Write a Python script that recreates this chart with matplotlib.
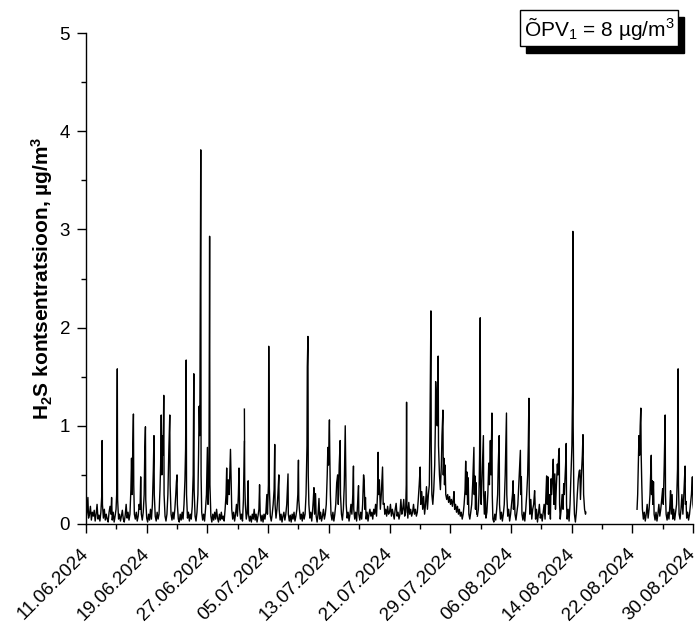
import numpy as np
import pandas as pd
import matplotlib
matplotlib.use("Agg")
import matplotlib.pyplot as plt
import matplotlib.dates as mdates
from matplotlib import transforms
from matplotlib.patches import Rectangle

plt.rcParams['font.family'] = ['Liberation Sans', 'DejaVu Sans']
plt.rcParams['mathtext.fontset'] = 'custom'
plt.rcParams['mathtext.rm'] = 'Liberation Sans'
plt.rcParams['mathtext.it'] = 'Liberation Sans:italic'
plt.rcParams['mathtext.bf'] = 'Liberation Sans:bold'

# H2S concentration (ug/m3), as (hours after segment start, value)
jun_start = pd.Timestamp("2024-06-11 23:00")
jun_pts = [(-29, 0.08), (-26, 0.15), (-23, 0.05), (-20, 0.12), (-17, 0.27), (-15, 0.06), (-12, 0.1),
           (-9, 0.18), (-6, 0.04), (-3, 0.12), (0, 0.08), (3, 0.14), (6, 0.03), (9, 0.1), (12, 0.2),
           (15, 0.05), (18, 0.09), (21, 0.03), (24, 0.12), (27, 0.3), (28, 0.85), (29, 0.2), (32, 0.06),
           (35, 0.15), (38, 0.04), (41, 0.1), (44, 0.05), (47, 0.02), (50, 0.12), (53, 0.18), (56, 0.1),
           (58, 0.27), (60, 0.04), (63, 0.12), (66, 0.02), (69, 0.08), (72, 0.15), (74, 0.3), (76, 1.58),
           (77, 0.25), (80, 0.05), (83, 0.1), (86, 0.03), (89, 0.08), (92, 0.14), (95, 0.05), (98, 0.02),
           (101, 0.09), (104, 0.2), (107, 0.06), (110, 0.12), (113, 0.04), (116, 0.1), (119, 0.35),
           (121, 0.67), (123, 0.3), (125, 0.79), (127, 1.12), (128, 0.4), (130, 0.1), (133, 0.05),
           (136, 0.12), (139, 0.03), (142, 0.08), (145, 0.2), (148, 0.15), (150, 0.48), (152, 0.1),
           (155, 0.04), (158, 0.12), (161, 0.3), (163, 0.76), (165, 0.99), (166, 0.25), (169, 0.06),
           (172, 0.02), (175, 0.1), (178, 0.04), (181, 0.15), (184, 0.05), (187, 0.2), (190, 0.55),
           (192, 0.9), (193, 0.3), (196, 0.08), (199, 0.03), (202, 0.12), (205, 0.05), (208, 0.1),
           (211, 0.35), (213, 0.6), (215, 1.11), (217, 0.5), (219, 0.9), (221, 0.7), (223, 1.31),
           (224, 0.3), (227, 0.08), (230, 0.03), (233, 0.1), (236, 0.3), (239, 0.75), (242, 1.11),
           (243, 0.4), (246, 0.1), (249, 0.04), (252, 0.12), (255, 0.05), (258, 0.15), (261, 0.3),
           (263, 0.43), (265, 0.5), (266, 0.2), (269, 0.05), (272, 0.02), (275, 0.1), (278, 0.04),
           (281, 0.12), (284, 0.05), (287, 0.2), (290, 0.45), (292, 0.76), (294, 1.67), (295, 0.3),
           (298, 0.06), (301, 0.12), (304, 0.03), (307, 0.1), (310, 0.05), (313, 0.18), (316, 0.5),
           (318, 1.53), (319, 0.35), (322, 0.08), (325, 0.03), (328, 0.12), (331, 0.3), (333, 0.7),
           (335, 1.2), (337, 0.9), (340, 3.81), (341, 0.5), (343, 0.12), (346, 0.04), (349, 0.1),
           (352, 0.03), (355, 0.15), (358, 0.3), (361, 0.78), (363, 0.2), (366, 0.5), (368, 2.93),
           (369, 0.4), (372, 0.08), (375, 0.02), (378, 0.1), (381, 0.04), (384, 0.12), (387, 0.05),
           (390, 0.15), (393, 0.06), (396, 0.02), (399, 0.1), (402, 0.04), (405, 0.12), (408, 0.05),
           (411, 0.08), (414, 0.03), (417, 0.15), (420, 0.3), (422, 0.57), (424, 0.2), (427, 0.45),
           (430, 0.3), (434, 0.76), (436, 0.46), (438, 0.15), (441, 0.05), (444, 0.12), (447, 0.03),
           (450, 0.1), (453, 0.2), (456, 0.08), (459, 0.3), (461, 0.57), (463, 0.15), (466, 0.05),
           (469, 0.1), (472, 0.03), (475, 0.25), (478, 0.84)]

jul_start = pd.Timestamp("2024-06-11 16:00")
jul_pts = [(485, 1.17), (486, 0.44), (488, 0.2), (491, 0.05), (494, 0.12), (497, 0.44), (498, 0.1),
           (501, 0.03), (504, 0.08), (507, 0.02), (510, 0.1), (513, 0.05), (516, 0.15), (519, 0.04),
           (522, 0.1), (525, 0.02), (528, 0.08), (531, 0.15), (533, 0.4), (535, 0.1), (538, 0.03),
           (541, 0.09), (544, 0.02), (547, 0.1), (550, 0.05), (553, 0.12), (556, 0.3), (558, 0.1),
           (561, 0.4), (562, 1.81), (563, 1.0), (564, 0.37), (567, 0.08), (570, 0.03), (573, 0.1),
           (576, 0.2), (579, 0.35), (581, 0.81), (582, 0.2), (585, 0.06), (588, 0.15), (591, 0.3),
           (594, 0.5), (595, 0.15), (598, 0.04), (601, 0.1), (604, 0.02), (607, 0.08), (610, 0.12),
           (613, 0.04), (616, 0.1), (619, 0.2), (621, 0.35), (623, 0.51), (624, 0.1), (627, 0.03),
           (630, 0.09), (633, 0.02), (636, 0.1), (639, 0.05), (642, 0.12), (645, 0.03), (648, 0.08),
           (651, 0.15), (654, 0.3), (656, 0.65), (657, 0.25), (659, 0.15), (662, 0.05), (665, 0.1),
           (668, 0.03), (671, 0.12), (674, 0.05), (677, 0.1), (680, 0.3), (683, 0.8), (684, 1.6),
           (686, 1.91), (687, 0.5), (689, 0.2), (692, 0.06), (695, 0.12), (698, 0.03), (701, 0.15),
           (703, 0.25), (705, 0.37), (707, 0.1), (710, 0.31), (712, 0.08), (715, 0.02), (718, 0.1),
           (721, 0.26), (723, 0.05), (726, 0.12), (729, 0.03), (732, 0.08), (735, 0.15), (738, 0.05),
           (741, 0.1), (744, 0.2), (747, 0.5), (749, 0.78), (751, 0.6), (754, 1.06), (755, 0.73),
           (757, 0.3), (759, 0.1), (762, 0.04), (765, 0.12), (768, 0.03), (771, 0.1), (774, 0.2),
           (777, 0.42), (780, 0.5), (782, 0.2), (785, 0.6), (788, 0.85), (789, 0.3), (792, 0.1),
           (795, 0.04), (798, 0.15), (801, 0.4), (804, 1.0), (805, 0.73), (807, 0.2), (810, 0.06),
           (813, 0.12), (816, 0.03), (819, 0.1), (822, 0.2), (825, 0.1), (828, 0.3), (830, 0.59),
           (831, 0.15), (834, 0.05), (837, 0.12), (840, 0.03), (843, 0.2), (846, 0.39), (847, 0.1),
           (850, 0.04), (853, 0.12), (856, 0.05), (859, 0.2), (862, 0.5), (864, 0.44), (866, 0.15),
           (868, 0.27), (870, 0.05), (873, 0.12), (876, 0.03), (879, 0.1), (882, 0.15), (885, 0.08),
           (888, 0.12), (891, 0.05), (894, 0.15), (897, 0.1), (900, 0.2), (903, 0.08), (906, 0.3),
           (908, 0.73), (909, 0.3), (912, 0.45), (915, 0.15), (918, 0.3), (922, 0.58), (924, 0.2),
           (927, 0.21), (929, 0.1), (932, 0.15), (935, 0.08), (938, 0.18), (941, 0.1), (944, 0.12),
           (947, 0.2), (950, 0.08), (953, 0.15), (956, 0.1), (959, 0.05), (962, 0.15), (965, 0.21),
           (968, 0.08), (971, 0.12), (974, 0.05), (977, 0.1), (980, 0.25), (983, 0.1), (986, 0.15),
           (989, 0.25), (992, 0.08), (995, 0.12), (997, 0.4), (998, 1.24), (999, 0.2), (1002, 0.06),
           (1005, 0.22), (1008, 0.1), (1011, 0.15), (1014, 0.08), (1017, 0.12), (1020, 0.2),
           (1023, 0.1), (1026, 0.15), (1029, 0.08), (1032, 0.12), (1035, 0.25), (1038, 0.4),
           (1041, 0.58), (1043, 0.2), (1046, 0.33), (1049, 0.15), (1052, 0.28), (1055, 0.1),
           (1058, 0.2), (1061, 0.38), (1064, 0.15), (1067, 0.3), (1070, 0.4), (1072, 1.0),
           (1075, 2.17), (1076, 0.8), (1078, 0.3), (1081, 0.2), (1084, 0.35), (1087, 0.6),
           (1089, 1.0), (1090, 1.45), (1092, 1.3), (1095, 1.0), (1098, 1.71), (1099, 0.8),
           (1102, 0.5), (1105, 0.35), (1108, 0.6), (1110, 0.9), (1113, 1.16), (1114, 0.5),
           (1116, 0.67), (1118, 0.4), (1120, 0.6), (1122, 0.3), (1125, 0.25), (1128, 0.3),
           (1131, 0.22), (1134, 0.28), (1137, 0.2), (1140, 0.25), (1143, 0.18), (1146, 0.25),
           (1148, 0.33), (1150, 0.15), (1153, 0.2), (1156, 0.12), (1159, 0.18), (1162, 0.1),
           (1165, 0.15), (1168, 0.08), (1171, 0.12), (1174, 0.05), (1177, 0.1), (1180, 0.2),
           (1183, 0.35), (1185, 0.64), (1187, 0.3), (1189, 0.53), (1191, 0.2), (1193, 0.47),
           (1195, 0.1), (1198, 0.05), (1201, 0.12), (1204, 0.2), (1207, 0.4), (1209, 0.6),
           (1211, 0.78), (1212, 0.3), (1214, 0.49), (1216, 0.15), (1218, 0.42), (1220, 0.1)]

aug_start = pd.Timestamp("2024-06-11 10:00")
aug_pts = [(1228, 0.08), (1231, 0.15), (1233, 0.3), (1235, 0.7), (1237, 2.1), (1238, 0.4), (1240, 0.2),
           (1243, 0.5), (1245, 0.7), (1247, 0.9), (1248, 0.3), (1250, 0.1), (1253, 0.33), (1255, 0.06),
           (1258, 0.12), (1261, 0.3), (1264, 0.62), (1266, 0.4), (1269, 0.85), (1271, 0.5), (1274, 1.13),
           (1275, 0.3), (1277, 0.05), (1280, 0.02), (1283, 0.1), (1286, 0.04), (1289, 0.15), (1292, 0.3),
           (1294, 0.6), (1297, 0.9), (1298, 0.2), (1301, 0.05), (1304, 0.12), (1307, 0.03), (1310, 0.1),
           (1313, 0.2), (1316, 0.5), (1320, 1.13), (1321, 0.3), (1324, 0.08), (1327, 0.15), (1330, 0.03),
           (1333, 0.1), (1336, 0.2), (1339, 0.3), (1341, 0.44), (1342, 0.15), (1345, 0.3), (1347, 0.1),
           (1350, 0.04), (1353, 0.12), (1356, 0.2), (1359, 0.4), (1362, 0.6), (1364, 0.75), (1365, 0.3),
           (1367, 0.48), (1369, 0.1), (1372, 0.04), (1375, 0.12), (1378, 0.03), (1381, 0.15), (1384, 0.3),
           (1387, 0.5), (1389, 0.8), (1391, 1.28), (1392, 0.35), (1394, 0.1), (1397, 0.25), (1400, 0.05),
           (1403, 0.15), (1406, 0.2), (1409, 0.34), (1410, 0.26), (1412, 0.05), (1415, 0.15), (1418, 0.02),
           (1421, 0.1), (1424, 0.2), (1427, 0.06), (1430, 0.1), (1433, 0.03), (1436, 0.12), (1439, 0.2),
           (1442, 0.05), (1445, 0.3), (1447, 0.49), (1449, 0.2), (1451, 0.48), (1453, 0.1), (1456, 0.3),
           (1459, 0.05), (1461, 0.46), (1463, 0.3), (1466, 0.5), (1468, 0.66), (1470, 0.2), (1473, 0.51),
           (1475, 0.15), (1478, 0.4), (1481, 0.61), (1483, 0.5), (1485, 0.7), (1487, 0.77), (1488, 0.2),
           (1490, 0.05), (1493, 0.15), (1496, 0.3), (1499, 0.15), (1501, 0.41), (1503, 0.3), (1505, 0.45),
           (1507, 0.6), (1509, 0.82), (1510, 0.2), (1512, 0.05), (1515, 0.15), (1518, 0.03), (1521, 0.2),
           (1524, 0.5), (1527, 0.8), (1529, 1.34), (1530, 2.98), (1531, 1.0), (1533, 0.33), (1535, 0.1),
           (1538, 0.02), (1541, 0.12), (1544, 0.3), (1547, 0.45), (1550, 0.54), (1552, 0.55), (1554, 0.25),
           (1557, 0.5), (1560, 0.7), (1562, 0.91), (1564, 0.3), (1567, 0.15), (1570, 0.1), (1571, 0.12)]

late_aug_start = pd.Timestamp("2024-06-11 05:00")
late_aug_pts = [(1738, 0.15), (1740, 0.3), (1742, 0.6), (1744, 0.9), (1746, 0.7), (1748, 1.0), (1750, 1.18),
                (1751, 0.72), (1753, 0.4), (1755, 0.15), (1758, 0.05), (1761, 0.12), (1764, 0.03), (1767, 0.1),
                (1770, 0.2), (1773, 0.06), (1776, 0.15), (1779, 0.3), (1781, 0.5), (1783, 0.7), (1784, 0.3),
                (1786, 0.44), (1788, 0.2), (1790, 0.43), (1792, 0.1), (1795, 0.04), (1798, 0.12), (1801, 0.03),
                (1804, 0.1), (1807, 0.2), (1810, 0.08), (1813, 0.15), (1816, 0.25), (1819, 0.36), (1821, 0.2),
                (1824, 0.6), (1827, 1.11), (1828, 0.3), (1830, 0.1), (1833, 0.04), (1836, 0.12), (1839, 0.05),
                (1842, 0.2), (1844, 0.34), (1846, 0.1), (1849, 0.3), (1851, 0.05), (1854, 0.15), (1857, 0.04),
                (1860, 0.12), (1863, 0.2), (1866, 0.56), (1868, 1.58), (1869, 0.4), (1871, 0.1), (1874, 0.05),
                (1877, 0.15), (1880, 0.3), (1883, 0.1), (1886, 0.3), (1888, 0.45), (1890, 0.59), (1891, 0.2),
                (1893, 0.23), (1895, 0.06), (1898, 0.12), (1901, 0.04), (1904, 0.1), (1907, 0.2), (1910, 0.3),
                (1913, 0.48), (1915, 0.2), (1917, 0.15)]

segments = [(jun_start, jun_pts), (jul_start, jul_pts), (aug_start, aug_pts), (late_aug_start, late_aug_pts)]

limit_label = r'ÕPV$_1$ = 8 µg/m$^3$'
ylabel = r'H$_\mathbf{2}$S kontsentratsioon, µg/m$^\mathbf{3}$'


def to_series(start, pts):
    h = np.array([p[0] for p in pts], dtype=float)
    v = np.array([p[1] for p in pts], dtype=float)
    return start + pd.to_timedelta(h, unit='h'), v


fig = plt.figure(figsize=(6.99, 6.26), dpi=100)
ax = fig.add_axes([86 / 699, 1 - 524 / 626, (693 - 86) / 699, (524 - 33) / 626])

for start, pts in segments:
    t, v = to_series(start, pts)
    ax.plot(t, v, color='black', linewidth=1.0)

ax.set_xlim(pd.Timestamp("2024-06-11"), pd.Timestamp("2024-08-30"))
ax.set_ylim(0, 5)

ax.set_xticks(pd.date_range("2024-06-11", "2024-08-30", freq="8D"))
ax.set_xticks(pd.date_range("2024-06-11", "2024-08-30", freq="4D"), minor=True)
ax.xaxis.set_major_formatter(mdates.DateFormatter('%d.%m.%Y'))
ax.set_yticks(np.arange(0, 6, 1))
ax.set_yticks(np.arange(0, 5.01, 0.5), minor=True)

for s in ('top', 'right'):
    ax.spines[s].set_visible(False)
for s in ('left', 'bottom'):
    ax.spines[s].set_linewidth(1.0)

ax.tick_params(which='major', direction='out', length=6.5, width=1.0, labelsize=13.5, pad=5)
ax.tick_params(which='minor', direction='out', length=3.5, width=1.0)
ax.tick_params(axis='x', which='major', pad=9)
xshift = transforms.ScaledTranslation(-6 / 100, 0, fig.dpi_scale_trans)
for lbl in ax.get_xticklabels():
    lbl.set_rotation(45)
    lbl.set_ha('right')
    lbl.set_rotation_mode('anchor')
    lbl.set_transform(lbl.get_transform() + xshift)

ax.set_ylabel(ylabel, fontsize=15, fontweight='bold', labelpad=3)

# limit value box with hard black shadow
box_txt = fig.text(599 / 699, 1 - 28 / 626, limit_label, fontsize=15, color='black',
                   ha='center', va='center', zorder=5,
                   bbox=dict(boxstyle='square,pad=0.2', fc='white', ec='black', lw=1))
fig.canvas.draw()
bb = box_txt.get_bbox_patch().get_window_extent()
fig.patches.append(Rectangle((bb.x0 + 6, bb.y0 - 7), bb.width, bb.height, transform=None,
                             facecolor='black', edgecolor='black', zorder=4))

fig.savefig('out.png', dpi=100)
